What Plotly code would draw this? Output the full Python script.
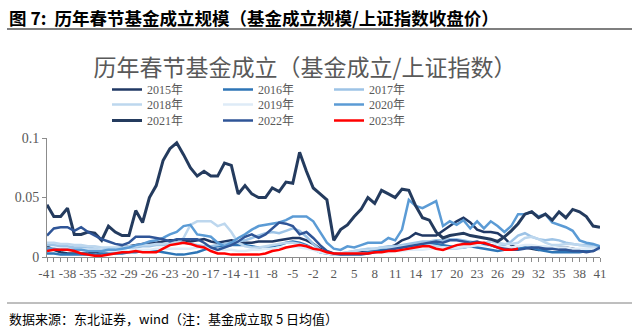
import plotly.graph_objects as go

# ---------------- data ----------------
days = list(range(-41, 0)) + list(range(1, 42))
categories = [str(d) for d in days]
tick_labels = [c if i % 3 == 0 else "" for i, c in enumerate(categories)]

y2015 = [0.009,0.006,0.004,0.003,0.003,0.003,0.003,0.004,0.005,0.006,
         0.007,0.008,0.009,0.010,0.011,0.012,0.012,0.013,0.014,0.014,
         0.014,0.013,0.014,0.015,0.013,0.012,0.013,0.014,0.013,0.012,
         0.012,0.013,0.013,0.013,0.014,0.015,0.016,0.016,0.014,0.011,
         0.007,0.004,0.003,0.003,0.003,0.004,0.004,0.005,0.005,0.006,
         0.008,0.010,0.014,0.016,0.020,0.018,0.018,0.018,0.022,0.026,
         0.030,0.033,0.029,0.023,0.021,0.021,0.020,0.016,0.010,0.007,
         0.008,0.007,0.006,0.007,0.007,0.008,0.008,0.007,0.006,0.006,
         0.005,0.008]
y2016 = [0.003,0.003,0.002,0.002,0.002,0.002,0.002,0.002,0.003,0.003,
         0.003,0.003,0.004,0.004,0.005,0.005,0.005,0.004,0.003,0.002,
         0.002,0.003,0.004,0.006,0.008,0.009,0.009,0.010,0.010,0.010,
         0.009,0.008,0.008,0.009,0.010,0.012,0.013,0.012,0.010,0.007,
         0.004,0.003,0.002,0.002,0.003,0.003,0.003,0.004,0.005,0.006,
         0.007,0.008,0.008,0.009,0.009,0.010,0.011,0.011,0.010,0.009,
         0.008,0.008,0.009,0.008,0.007,0.006,0.005,0.006,0.006,0.007,
         0.008,0.008,0.006,0.005,0.004,0.004,0.004,0.004,0.004,0.005,
         0.006,0.009]
y2017 = [0.010,0.010,0.009,0.009,0.008,0.008,0.008,0.007,0.007,0.007,
         0.007,0.007,0.008,0.008,0.009,0.009,0.010,0.010,0.011,0.012,
         0.012,0.011,0.010,0.009,0.009,0.010,0.011,0.012,0.013,0.014,
         0.016,0.018,0.020,0.021,0.020,0.022,0.024,0.022,0.017,0.011,
         0.006,0.004,0.003,0.003,0.004,0.005,0.006,0.007,0.007,0.008,
         0.009,0.009,0.010,0.011,0.012,0.013,0.013,0.014,0.014,0.015,
         0.015,0.014,0.013,0.012,0.011,0.010,0.009,0.010,0.013,0.018,
         0.020,0.017,0.015,0.014,0.015,0.014,0.012,0.011,0.010,0.010,
         0.010,0.009]
y2018 = [0.012,0.012,0.011,0.011,0.010,0.010,0.009,0.009,0.008,0.008,
         0.008,0.008,0.009,0.009,0.010,0.010,0.011,0.011,0.012,0.012,
         0.016,0.027,0.030,0.030,0.030,0.026,0.028,0.021,0.012,0.009,
         0.008,0.008,0.009,0.010,0.011,0.012,0.012,0.011,0.009,0.007,
         0.005,0.004,0.003,0.003,0.004,0.005,0.006,0.006,0.007,0.008,
         0.008,0.008,0.009,0.009,0.010,0.011,0.010,0.009,0.008,0.007,
         0.007,0.008,0.009,0.010,0.012,0.013,0.012,0.011,0.011,0.012,
         0.016,0.017,0.015,0.012,0.010,0.010,0.011,0.011,0.010,0.009,
         0.008,0.008]
y2019 = [0.007,0.007,0.007,0.006,0.006,0.006,0.006,0.006,0.006,0.005,
         0.005,0.005,0.005,0.006,0.006,0.006,0.007,0.007,0.007,0.007,
         0.007,0.007,0.008,0.008,0.007,0.006,0.006,0.006,0.005,0.005,
         0.006,0.006,0.007,0.007,0.008,0.008,0.009,0.008,0.007,0.006,
         0.004,0.003,0.002,0.002,0.002,0.003,0.003,0.003,0.004,0.004,
         0.004,0.005,0.005,0.006,0.006,0.006,0.007,0.007,0.008,0.008,
         0.008,0.009,0.009,0.010,0.010,0.009,0.009,0.008,0.008,0.009,
         0.010,0.010,0.009,0.009,0.008,0.008,0.008,0.007,0.007,0.007,
         0.007,0.006]
y2020 = [0.007,0.007,0.006,0.006,0.006,0.006,0.005,0.005,0.005,0.006,
         0.006,0.007,0.008,0.010,0.011,0.013,0.014,0.016,0.019,0.021,
         0.026,0.027,0.019,0.018,0.017,0.012,0.009,0.012,0.016,0.019,
         0.023,0.026,0.027,0.028,0.029,0.031,0.034,0.034,0.034,0.030,
         0.021,0.012,0.007,0.006,0.009,0.008,0.010,0.012,0.012,0.012,
         0.016,0.014,0.023,0.048,0.043,0.041,0.044,0.047,0.026,0.030,
         0.027,0.031,0.024,0.030,0.024,0.030,0.026,0.021,0.026,0.036,
         0.036,0.038,0.034,0.036,0.029,0.027,0.025,0.022,0.014,0.012,
         0.011,0.009]
y2021 = [0.044,0.034,0.034,0.041,0.019,0.019,0.021,0.020,0.014,0.026,
         0.021,0.018,0.018,0.039,0.029,0.050,0.060,0.081,0.091,0.096,
         0.086,0.075,0.068,0.072,0.068,0.068,0.079,0.077,0.053,0.060,
         0.053,0.050,0.050,0.058,0.055,0.063,0.062,0.088,0.072,0.058,
         0.053,0.048,0.014,0.023,0.027,0.034,0.040,0.050,0.045,0.056,
         0.053,0.050,0.057,0.056,0.043,0.033,0.031,0.021,0.016,0.018,
         0.019,0.020,0.018,0.017,0.016,0.015,0.013,0.017,0.022,0.028,
         0.036,0.038,0.033,0.036,0.031,0.038,0.033,0.040,0.038,0.034,
         0.026,0.025]
y2022 = [0.018,0.024,0.025,0.025,0.022,0.025,0.021,0.018,0.015,0.013,
         0.011,0.010,0.012,0.017,0.017,0.017,0.016,0.015,0.013,0.015,
         0.015,0.015,0.015,0.012,0.008,0.006,0.008,0.010,0.013,0.017,
         0.019,0.016,0.019,0.024,0.029,0.028,0.026,0.019,0.021,0.016,
         0.010,0.005,0.003,0.002,0.002,0.002,0.002,0.003,0.004,0.005,
         0.006,0.007,0.008,0.009,0.010,0.011,0.012,0.013,0.012,0.014,
         0.014,0.013,0.012,0.013,0.011,0.010,0.008,0.007,0.006,0.006,
         0.007,0.008,0.008,0.007,0.007,0.006,0.006,0.005,0.005,0.004,
         0.005,0.008]
y2023 = [0.005,0.006,0.006,0.006,0.005,0.003,0.002,0.001,0.001,0.002,
         0.003,0.004,0.004,0.005,0.004,0.004,0.004,0.007,0.010,0.011,
         0.012,0.011,0.009,0.008,0.005,0.003,0.003,0.002,0.002,0.002,
         0.002,0.002,0.003,0.005,0.006,0.008,0.009,0.010,0.009,0.007,
         0.006,0.004,0.003,0.003,0.003,0.003,0.003,0.003,0.004,0.004,
         0.005,0.005,0.006,0.007,0.008,0.009,0.009,0.007,0.006,0.008,
         0.010,0.011,0.011,0.012,0.012,0.010,0.008,0.006,0.006,0.007,
         None,None,None,None,None,None,None,None,None,None,
         None,None]

series_names = ["2015年", "2016年", "2017年", "2018年", "2019年",
                "2020年", "2021年", "2022年", "2023年"]
series_values = [y2015, y2016, y2017, y2018, y2019, y2020, y2021, y2022, y2023]
series_colors = ["#203864", "#2E75B6", "#9DC3E6", "#BDD7EE", "#DEEBF7",
                 "#5B9BD5", "#243B5E", "#2F5597", "#FF0000"]
series_widths = [2.5, 2.5, 2.5, 2.5, 2.5, 2.5, 3, 2.5, 2.5]
# one horizontal legend per legend row (3 entries each)
series_legend = ["legend", "legend", "legend",
                 "legend2", "legend2", "legend2",
                 "legend3", "legend3", "legend3"]

# ---------------- layout geometry ----------------
W, H = 640, 336
L, R, T, B = 47, 40, 138, 79
PW, PH = W - L - R, H - T - B

def px2x(px):
    return (px - L) / PW

def px2y(py):
    return (H - B - py) / PH

SERIF = "Liberation Serif, Times New Roman, Noto Sans CJK SC"
CJK = "Noto Sans CJK SC"

fig = go.Figure()
for name, vals, col, lw, lg in zip(series_names, series_values, series_colors,
                                   series_widths, series_legend):
    fig.add_trace(go.Scatter(
        x=categories, y=vals, mode="lines", name=name,
        line=dict(color=col, width=lw), legend=lg, connectgaps=False,
    ))

legend_common = dict(
    orientation="h", xref="paper", yref="paper",
    yanchor="top", xanchor="left",
    font=dict(family=SERIF, size=12, color="#595959"),
    bgcolor="rgba(0,0,0,0)", itemwidth=30, tracegroupgap=0,
    entrywidth=66, entrywidthmode="pixels",
    itemclick=False, itemdoubleclick=False,
)
legend_x = px2x(107)

fig.update_layout(
    width=W, height=H,
    margin=dict(l=L, r=R, t=T, b=B, pad=0, autoexpand=False),
    paper_bgcolor="white", plot_bgcolor="white",
    showlegend=True,
    legend=dict(x=legend_x, y=px2y(75), **legend_common),
    legend2=dict(x=legend_x, y=px2y(90), **legend_common),
    legend3=dict(x=legend_x, y=px2y(106), **legend_common),
    title=dict(
        text="历年春节基金成立（基金成立/上证指数）",
        x=305 / W, xanchor="center", xref="container",
        y=1 - 68 / H, yanchor="middle", yref="container",
        font=dict(family=CJK, size=23, color="#595959"),
    ),
    xaxis=dict(
        type="category", categoryorder="array", categoryarray=categories,
        range=[0, len(categories) - 1], automargin=False,
        tickmode="array", tickvals=categories, ticktext=tick_labels,
        ticks="outside", ticklen=4, tickwidth=1, tickcolor="#8c8c8c",
        showline=True, linecolor="#8c8c8c", linewidth=1,
        showgrid=False, zeroline=False, tickangle=0,
        tickfont=dict(family=SERIF, size=13, color="#595959"),
    ),
    yaxis=dict(
        range=[0, 0.1], tickmode="array", automargin=False,
        tickvals=[0, 0.05, 0.1], ticktext=["0", "0.05", "0.1"],
        ticks="outside", ticklen=4, tickwidth=1, tickcolor="#8c8c8c",
        showline=True, linecolor="#8c8c8c", linewidth=1,
        showgrid=False, zeroline=False,
        tickfont=dict(family=SERIF, size=14, color="#595959"),
    ),
    annotations=[
        dict(text="<b>图 7:  历年春节基金成立规模（基金成立规模/上证指数收盘价）</b>",
             xref="paper", yref="paper", x=px2x(7), y=px2y(17),
             xanchor="left", yanchor="middle", showarrow=False,
             font=dict(family=CJK, size=17.5, color="#000000")),
        dict(text="数据来源：东北证券，wind（注：基金成立取 5 日均值）",
             xref="paper", yref="paper", x=px2x(7), y=px2y(318),
             xanchor="left", yanchor="middle", showarrow=False,
             font=dict(family=CJK, size=13, color="#000000")),
    ],
    shapes=[
        dict(type="line", xref="paper", yref="paper",
             x0=px2x(7), x1=px2x(632), y0=px2y(29), y1=px2y(29),
             line=dict(color="#7f7f7f", width=2)),
        dict(type="line", xref="paper", yref="paper",
             x0=px2x(7), x1=px2x(632), y0=px2y(303), y1=px2y(303),
             line=dict(color="#7f7f7f", width=1)),
    ],
)

fig.write_html("out.html")
